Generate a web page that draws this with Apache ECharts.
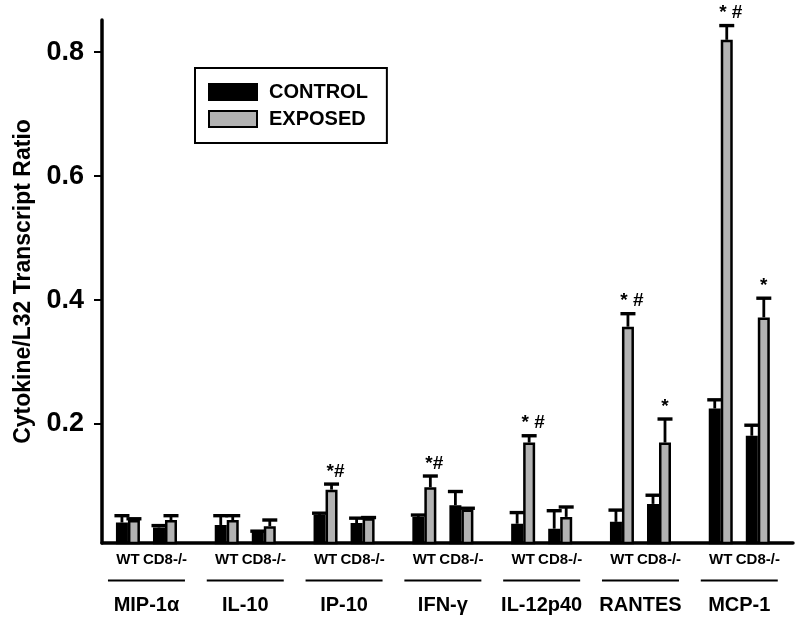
<!DOCTYPE html>
<html>
<head>
<meta charset="utf-8">
<script src="https://cdn.jsdelivr.net/npm/echarts@6/dist/echarts.min.js"></script>
<style>html,body{margin:0;padding:0;background:#fff}#chart{width:800px;height:625px}</style>
</head>
<body>
<div id="chart"></div>
<script>
// ---- data ----
const groups = ['MIP-1α', 'IL-10', 'IP-10', 'IFN-γ', 'IL-12p40', 'RANTES', 'MCP-1'];
const strains = ['WT', 'CD8-/-'];
// order: [group0 WT, group0 CD8-/-, group1 WT, ...]
const controlMean = [0.041, 0.033, 0.037, 0.026, 0.053, 0.040, 0.050, 0.069, 0.039, 0.031, 0.042, 0.071, 0.225, 0.181];
const controlErr  = [0.011, 0.003, 0.015, 0.001, 0.003, 0.008, 0.003, 0.022, 0.018, 0.029, 0.019, 0.014, 0.014, 0.017];
const exposedMean = [0.045, 0.045, 0.045, 0.035, 0.094, 0.048, 0.098, 0.062, 0.170, 0.050, 0.357, 0.170, 0.820, 0.372];
const exposedErr  = [0.002, 0.007, 0.007, 0.010, 0.009, 0.001, 0.018, 0.002, 0.011, 0.016, 0.021, 0.038, 0.023, 0.031];
const exposedMarks = ['', '', '', '', '*#', '', '*#', '', '* #', '', '* #', '*', '* #', '*'];
const yTicks = [0.2, 0.4, 0.6, 0.8];
const seriesNames = ['CONTROL', 'EXPOSED'];

// ---- layout helpers ----
const SLOTS = 8;
const xPos = (g, s) => g * SLOTS + 2.5 + s * 3;
const groupCenter = g => g * SLOTS + 4;
const X_MIN = 0.4, X_MAX = 56.35;
const Y_MIN = 0.0079, Y_MAX = 0.852;
const BAR_W = 12;
const FONT = 'Liberation Sans, Arial, sans-serif';

const points = [];
groups.forEach((g, gi) => strains.forEach((s, si) => points.push({ x: xPos(gi, si), label: s })));
const labelMap = new Map(points.map(p => [p.x.toFixed(2), p.label]));
const groupMap = new Map(groups.map((g, gi) => [groupCenter(gi).toFixed(2), g]));

function barData(means) { return means.map((v, i) => [points[i].x, v]); }
function errData(means, errs) { return means.map((v, i) => [points[i].x, v, errs[i]]); }

function errRenderer(offset, marks) {
  return function (params, api) {
    const x = api.value(0), m = api.value(1), e = api.value(2);
    const base = api.coord([x, m]);
    const top = api.coord([x, m + e]);
    const cx = base[0] + offset;
    const children = [
      { type: 'line', shape: { x1: cx, y1: base[1], x2: cx, y2: top[1] }, style: { stroke: '#000', lineWidth: 2.8 } },
      { type: 'line', shape: { x1: cx - 7.5, y1: top[1], x2: cx + 7.5, y2: top[1] }, style: { stroke: '#000', lineWidth: 3.4 } }
    ];
    const mark = marks ? marks[params.dataIndex] : '';
    if (mark) {
      children.push({
        type: 'text',
        style: {
          x: cx + (mark.indexOf('#') >= 0 ? 4 : 0), y: top[1] - 3,
          text: mark, fill: '#000', font: 'bold 19px ' + FONT,
          align: 'center', verticalAlign: 'bottom'
        }
      });
    }
    return { type: 'group', children: children };
  };
}

const chart = echarts.init(document.getElementById('chart'), null, { renderer: 'canvas' });
chart.setOption({
  animation: false,
  backgroundColor: '#fff',
  textStyle: { fontFamily: FONT },
  grid: { left: 102, right: 7, top: 20, bottom: 82 },
  legend: {
    data: seriesNames,
    orient: 'vertical',
    left: 195, top: 68,
    padding: [14, 19, 14, 13],
    itemWidth: 48, itemHeight: 16, itemGap: 7,
    icon: 'rect',
    borderColor: '#000', borderWidth: 2,
    textStyle: { fontSize: 20, fontWeight: 'bold', color: '#000', fontFamily: FONT, lineHeight: 20, padding: [0, 0, 0, 7] }
  },
  xAxis: [
    {
      type: 'value', min: X_MIN, max: X_MAX,
      axisLine: { show: true, lineStyle: { color: '#000', width: 3.5 } },
      axisTick: { show: false },
      splitLine: { show: false },
      axisLabel: {
        customValues: points.map(p => p.x),
        formatter: v => labelMap.get(Number(v).toFixed(2)) || '',
        margin: 9, fontSize: 15, fontWeight: 'bold', color: '#000', fontFamily: FONT
      }
    },
    {
      type: 'value', min: X_MIN, max: X_MAX, position: 'bottom',
      axisLine: { show: false }, axisTick: { show: false }, splitLine: { show: false },
      axisLabel: {
        customValues: groups.map((g, gi) => groupCenter(gi)),
        formatter: v => groupMap.get(Number(v).toFixed(2)) || '',
        margin: 52, fontSize: 20, fontWeight: 'bold', color: '#000', fontFamily: FONT
      }
    }
  ],
  yAxis: {
    type: 'value', min: Y_MIN, max: Y_MAX,
    name: 'Cytokine/L32 Transcript Ratio',
    nameLocation: 'middle', nameGap: 67, nameRotate: 90,
    nameTextStyle: { fontSize: 23, fontWeight: 'bold', color: '#000', fontFamily: FONT },
    axisLine: { show: true, lineStyle: { color: '#000', width: 3.5 } },
    axisTick: { show: true, length: 8, customValues: yTicks, lineStyle: { color: '#000', width: 2 } },
    splitLine: { show: false },
    axisLabel: {
      customValues: yTicks,
      formatter: v => Number(v).toFixed(1),
      margin: 18, fontSize: 27, fontWeight: 'bold', color: '#000', fontFamily: FONT
    }
  },
  series: [
    {
      name: seriesNames[0], type: 'bar', xAxisIndex: 0,
      data: barData(controlMean), barWidth: BAR_W, barGap: '0%',
      itemStyle: { color: '#000', borderColor: '#000', borderWidth: 2.5 }
    },
    {
      name: seriesNames[1], type: 'bar', xAxisIndex: 0,
      data: barData(exposedMean), barWidth: BAR_W, barGap: '0%',
      itemStyle: { color: '#b3b3b3', borderColor: '#000', borderWidth: 2.5 }
    },
    {
      name: 'controlErr', type: 'custom', xAxisIndex: 0, clip: false, z: 5,
      data: errData(controlMean, controlErr), encode: { x: 0, y: 1 },
      renderItem: errRenderer(-BAR_W / 2, null)
    },
    {
      name: 'exposedErr', type: 'custom', xAxisIndex: 0, clip: false, z: 5,
      data: errData(exposedMean, exposedErr), encode: { x: 0, y: 1 },
      renderItem: errRenderer(BAR_W / 2, exposedMarks)
    },
    {
      name: 'groupLines', type: 'custom', xAxisIndex: 0, clip: false, silent: true,
      data: groups.map((g, gi) => [groupCenter(gi), Y_MIN]), encode: { x: 0, y: 1 },
      renderItem: function (params, api) {
        const p = api.coord([api.value(0), api.value(1)]);
        return { type: 'line', shape: { x1: p[0] - 38.5, y1: p[1] + 37.5, x2: p[0] + 38.5, y2: p[1] + 37.5 }, style: { stroke: '#000', lineWidth: 2 } };
      }
    }
  ]
});
</script>
</body>
</html>
